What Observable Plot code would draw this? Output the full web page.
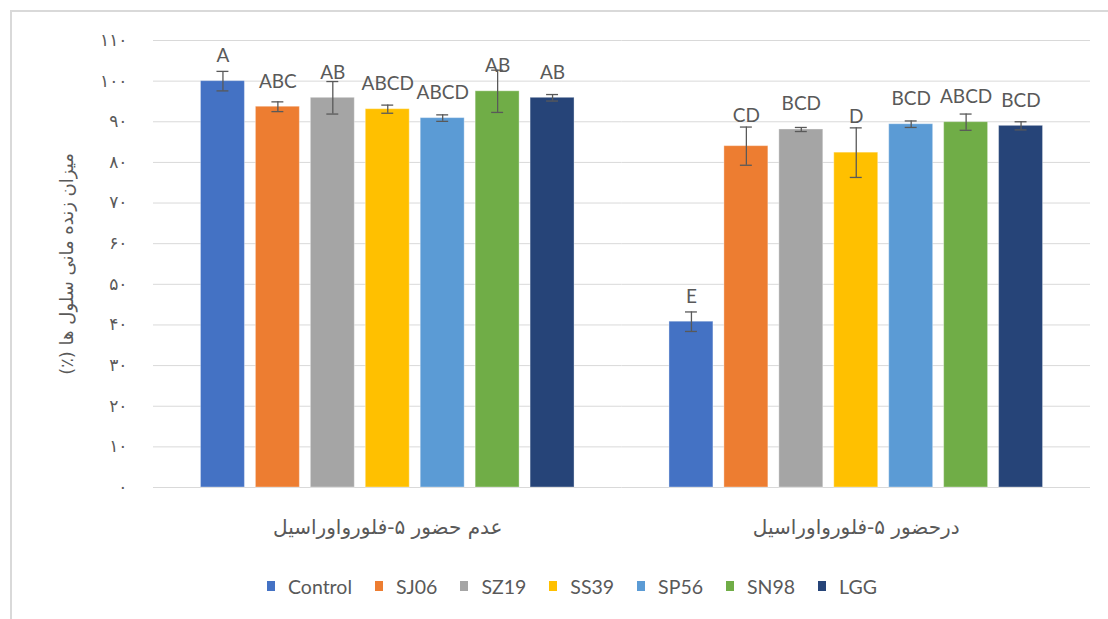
<!DOCTYPE html>
<html>
<head>
<meta charset="utf-8">
<script src="https://cdn.jsdelivr.net/npm/d3@7"></script>
<script src="https://cdn.jsdelivr.net/npm/@observablehq/plot@0.6"></script>
<style>
  html, body { margin: 0; padding: 0; background: #fff; }
  #wrap { position: relative; width: 1108px; height: 619px; overflow: hidden; font-family: Lato, "Open Sans", "DejaVu Sans", sans-serif; }
  #border { position: absolute; left: 10px; top: 10px; width: 1200px; height: 700px; border-top: 2px solid #d9d9d9; border-left: 2px solid #d9d9d9; box-sizing: border-box; }
  #chart { position: absolute; left: 0; top: 0; }
  #legend { position: absolute; left: 267px; top: 572px; display: flex; align-items: center; height: 28px; color: #595959; font-size: 19.5px; font-family: Lato, "Open Sans", sans-serif; }
  #legend .item { display: flex; align-items: center; margin-right: 23px; }
  #legend .sw { width: 8px; height: 10px; margin-right: 13px; }
</style>
</head>
<body>
<div id="wrap">
  <div id="border"></div>
  <div id="chart"></div>
  <div id="legend"></div>
</div>
<script>
// ---- data ----
const groups = ["عدم حضور ۵-فلورواوراسیل", "درحضور ۵-فلورواوراسیل"];
const strains = ["Control", "SJ06", "SZ19", "SS39", "SP56", "SN98", "LGG"];
const colors = ["#4472C4", "#ED7D31", "#A5A5A5", "#FFC000", "#5B9BD5", "#70AD47", "#264478"];

const absentMeans   = [100.0, 93.7, 95.9, 93.1, 90.9, 97.5, 95.9];
const absentErr     = [2.4, 1.2, 4.0, 1.0, 0.8, 5.2, 0.8];
const absentLetters = ["A", "ABC", "AB", "ABCD", "ABCD", "AB", "AB"];

const presentMeans   = [40.8, 84.0, 88.1, 82.4, 89.4, 89.9, 89.0];
const presentErr     = [2.4, 4.7, 0.5, 6.1, 0.8, 2.0, 1.0];
const presentLetters = ["E", "CD", "BCD", "D", "BCD", "ABCD", "BCD"];

// letters that sit above the error bar instead of above the bar
const raisedLabels = [groups[1] + "|SJ06", groups[1] + "|SS39"];

const yTicks = [0, 10, 20, 30, 40, 50, 60, 70, 80, 90, 100, 110];
const yLabel = "میزان زنده مانی سلول ها (٪)\u200F";

// ---- table ----
const rows = [];
strains.forEach((s, i) => {
  rows.push({group: groups[0], strain: s, mean: absentMeans[i], err: absentErr[i], letter: absentLetters[i]});
});
strains.forEach((s, i) => {
  rows.push({group: groups[1], strain: s, mean: presentMeans[i], err: presentErr[i], letter: presentLetters[i]});
});
const isRaised = d => raisedLabels.includes(d.group + "|" + d.strain);

const persian = n => String(n).replace(/\d/g, c => "۰۱۲۳۴۵۶۷۸۹"[c]);
const gray = "#595959";

const chart = Plot.plot({
  width: 1108,
  height: 560,
  marginLeft: 153,
  marginRight: 18,
  marginTop: 40,
  marginBottom: 73,
  style: {fontFamily: "'DejaVu Sans', sans-serif", fontSize: "17px", color: gray, background: "transparent"},
  fx: {domain: groups, padding: 0, round: false, axis: null},
  x: {domain: strains, paddingInner: 0.2, paddingOuter: 0.864, round: false, axis: null},
  y: {domain: [0, 110], ticks: yTicks, tickFormat: persian, tickSize: 0, tickPadding: 26, label: null},
  color: {domain: strains, range: colors},
  marks: [
    Plot.ruleY(yTicks, {stroke: "#d9d9d9", strokeWidth: 1}),
    Plot.barY(rows, {fx: "group", x: "strain", y: "mean", fill: "strain", stroke: "white", strokeOpacity: 0.35, strokeWidth: 1}),
    Plot.ruleX(rows, {fx: "group", x: "strain", y1: d => d.mean - d.err, y2: d => d.mean + d.err, stroke: gray, strokeWidth: 1.3}),
    Plot.tickY(rows, {fx: "group", x: "strain", y: d => d.mean + d.err, stroke: gray, strokeWidth: 1.3, insetLeft: 16, insetRight: 16}),
    Plot.tickY(rows, {fx: "group", x: "strain", y: d => d.mean - d.err, stroke: gray, strokeWidth: 1.3, insetLeft: 16, insetRight: 16}),
    Plot.text(rows.filter(d => !isRaised(d)), {fx: "group", x: "strain", y: "mean", text: "letter", lineAnchor: "bottom", dy: -19, fontSize: 19, fill: gray, fontFamily: "Lato, 'Open Sans', sans-serif"}),
    Plot.text(rows.filter(isRaised), {fx: "group", x: "strain", y: d => d.mean + d.err, text: "letter", lineAnchor: "bottom", dy: -5, fontSize: 19, fill: gray, fontFamily: "Lato, 'Open Sans', sans-serif"}),
    Plot.text(groups, {fx: d => d, text: d => d, frameAnchor: "bottom", textAnchor: "middle", lineAnchor: "middle", dy: 40, fontSize: 20, fill: gray}),
    Plot.text([{g: groups[0], t: yLabel}], {fx: "g", text: "t", frameAnchor: "left", textAnchor: "middle", lineAnchor: "middle", rotate: -90, dx: -86, fontSize: 18, fill: gray})
  ]
});
document.getElementById("chart").appendChild(chart);

// ---- legend ----
const legend = document.getElementById("legend");
strains.forEach((s, i) => {
  const item = document.createElement("div");
  item.className = "item";
  const sw = document.createElement("span");
  sw.className = "sw";
  sw.style.background = colors[i];
  const label = document.createElement("span");
  label.textContent = s;
  item.appendChild(sw);
  item.appendChild(label);
  legend.appendChild(item);
});
</script>
</body>
</html>
